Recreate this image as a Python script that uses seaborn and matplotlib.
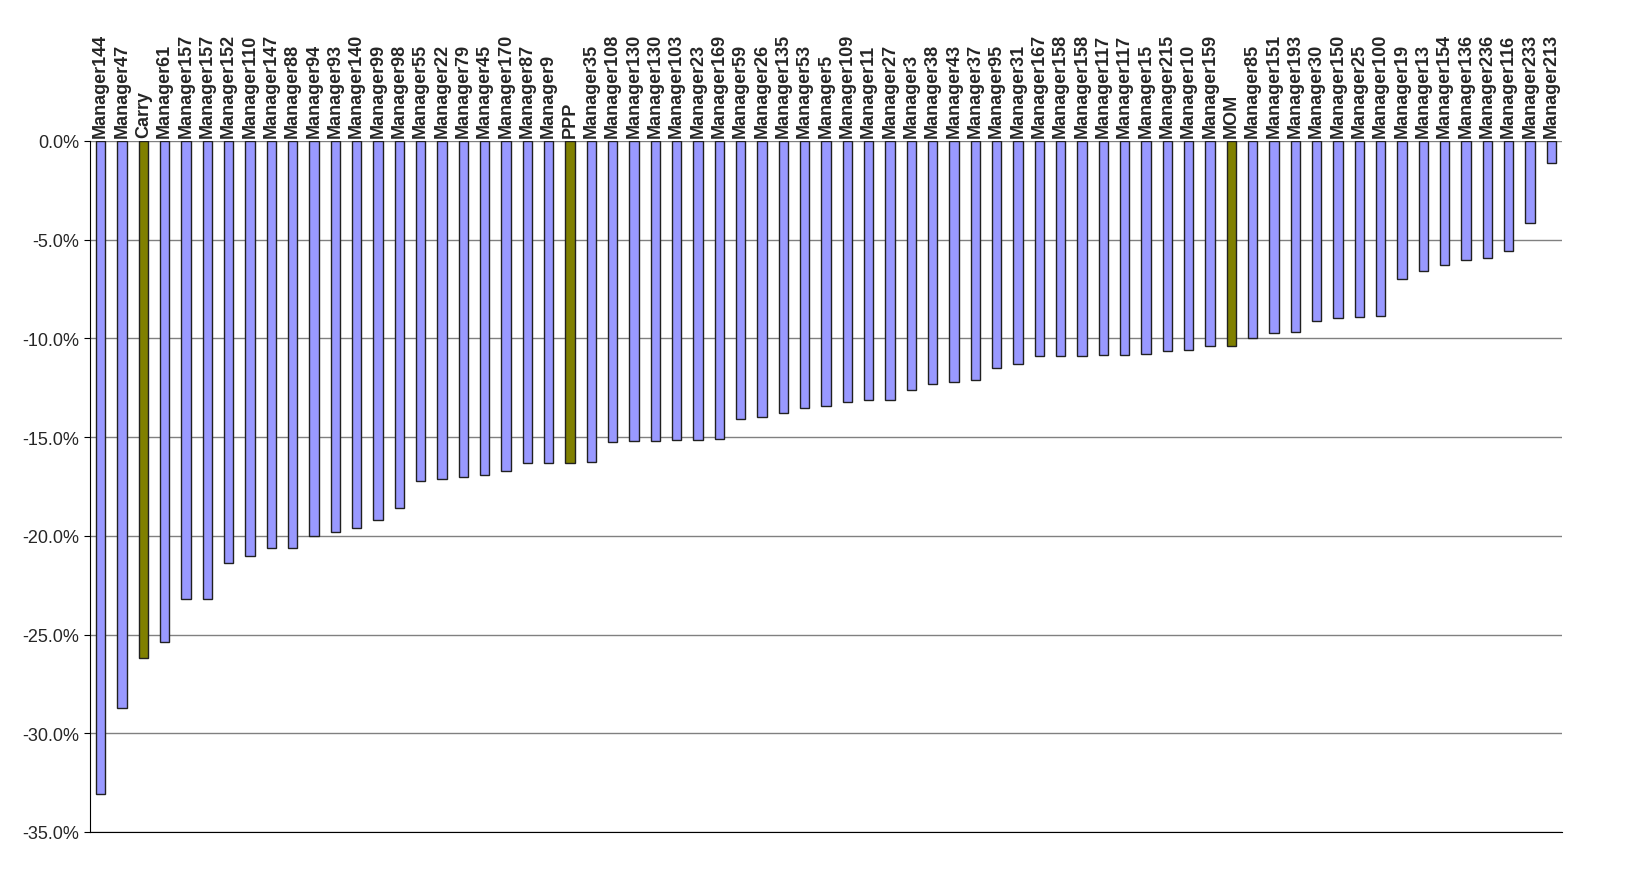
import numpy as np
import pandas as pd
import matplotlib.pyplot as plt
import seaborn as sns
from matplotlib.ticker import FuncFormatter

labels = ["Manager144", "Manager47", "Carry", "Manager61", "Manager157", "Manager157",
          "Manager152", "Manager110", "Manager147", "Manager88", "Manager94", "Manager93",
          "Manager140", "Manager99", "Manager98", "Manager55", "Manager22", "Manager79",
          "Manager45", "Manager170", "Manager87", "Manager9", "PPP", "Manager35",
          "Manager108", "Manager130", "Manager130", "Manager103", "Manager23", "Manager169",
          "Manager59", "Manager26", "Manager135", "Manager53", "Manager5", "Manager109",
          "Manager11", "Manager27", "Manager3", "Manager38", "Manager43", "Manager37",
          "Manager95", "Manager31", "Manager167", "Manager158", "Manager158", "Manager117",
          "Manager117", "Manager15", "Manager215", "Manager10", "Manager159", "MOM",
          "Manager85", "Manager151", "Manager193", "Manager30", "Manager150", "Manager25",
          "Manager100", "Manager19", "Manager13", "Manager154", "Manager136", "Manager236",
          "Manager116", "Manager233", "Manager213"]
values = [-33.1, -28.7, -26.2, -25.4, -23.2, -23.2, -21.4, -21.0, -20.6, -20.6, -20.0, -19.8,
          -19.6, -19.2, -18.6, -17.2, -17.1, -17.0, -16.9, -16.7, -16.3, -16.3, -16.3, -16.25,
          -15.25, -15.2, -15.2, -15.15, -15.15, -15.1, -14.1, -14.0, -13.8, -13.5, -13.4, -13.2,
          -13.1, -13.1, -12.6, -12.3, -12.2, -12.1, -11.5, -11.3, -10.9, -10.9, -10.9, -10.85,
          -10.85, -10.8, -10.65, -10.6, -10.4, -10.4, -10.0, -9.75, -9.65, -9.1, -8.95, -8.9,
          -8.85, -7.0, -6.6, -6.3, -6.05, -5.95, -5.55, -4.15, -1.1]
highlight = ["Carry", "PPP", "MOM"]

df = pd.DataFrame({"pos": range(len(labels)), "label": labels, "value": values})
df["kind"] = np.where(df["label"].isin(highlight), "factor", "manager")

sns.set_style("white")
plt.rcParams["font.family"] = ["Liberation Sans", "DejaVu Sans"]
fig = plt.figure(figsize=(16.31, 8.79), dpi=100)
ax = fig.add_axes([90 / 1631, 1 - 833 / 879, (1562 - 90) / 1631, (833 - 142) / 879])
ax.yaxis.grid(True, color="#808080", linewidth=1)
ax.set_axisbelow(True)
sns.barplot(data=df, x="pos", y="value", hue="kind",
            palette={"manager": "#9999FF", "factor": "#808000"}, saturation=1,
            width=0.45, edgecolor="#202020", linewidth=1, dodge=False, legend=False, ax=ax)

ax.set_ylim(-35, 0)
ax.set_yticks(np.arange(-35, 0.1, 5))
ax.yaxis.set_major_formatter(FuncFormatter(lambda v, p: f"{v:.1f}%"))
ax.tick_params(axis="y", labelsize=13, length=4, left=True, color="black")
ax.set_xticks(range(len(labels)))
ax.set_xticklabels(labels)
ax.xaxis.tick_top()
ax.tick_params(axis="x", length=0, pad=3, labelsize=13, labelrotation=90)
for t in ax.xaxis.get_ticklabels(which="major") + [tk.label2 for tk in ax.xaxis.get_major_ticks()]:
    t.set_fontweight("bold")
ax.set_xlim(-0.5, len(labels) - 0.5)
ax.set_xlabel("")
ax.set_ylabel("")
for s in ["top", "right"]:
    ax.spines[s].set_visible(False)
ax.spines["left"].set_color("black")
ax.spines["bottom"].set_color("black")

fig.savefig("out.png", dpi=100)
